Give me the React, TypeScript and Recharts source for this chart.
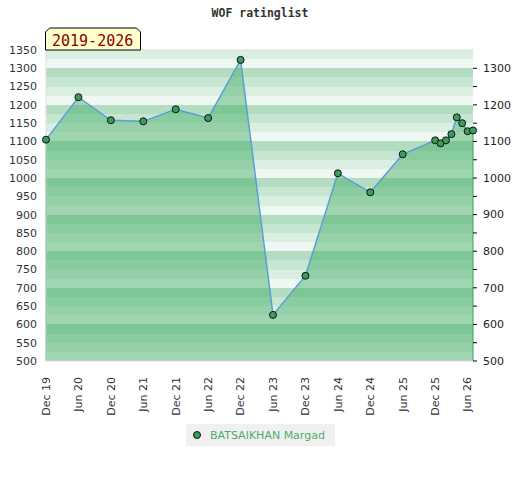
import {
  Area,
  CartesianGrid,
  ComposedChart,
  Legend,
  Line,
  ReferenceLine,
  XAxis,
  YAxis,
} from "recharts";

// months counted from Dec 2019
const months = [0, 6, 12, 18, 24, 30, 36, 42, 48, 54, 60, 66, 72, 73, 74, 75, 76, 77, 78, 79];
const ratings = [
  1105, 1221, 1158, 1155, 1188, 1164, 1323, 626, 733, 1013, 961, 1065, 1103, 1095, 1103, 1120,
  1166, 1150, 1128, 1130,
];

const tickMonths = [0, 6, 12, 18, 24, 30, 36, 42, 48, 54, 60, 66, 72, 78];
const tickLabels = [
  "Dec 19", "Jun 20", "Dec 20", "Jun 21", "Dec 21", "Jun 22", "Dec 22",
  "Jun 23", "Dec 23", "Jun 24", "Dec 24", "Jun 25", "Dec 25", "Jun 26",
];
const leftTicks = [500, 550, 600, 650, 700, 750, 800, 850, 900, 950, 1000, 1050, 1100, 1150, 1200, 1250, 1300, 1350];
const rightTicks = [500, 550, 600, 650, 700, 750, 800, 850, 900, 950, 1000, 1050, 1100, 1150, 1200, 1250, 1300];

const playerName = "BATSAIKHAN Margad";
const title = "WOF ratinglist";
const period = "2019-2026";

const data = months.map((m, i) => ({ month: m, rating: ratings[i] }));

// background stripes every 25 points
const bandValues = Array.from({ length: 35 }, (_, i) => 500 + i * 25);
const bandFill = ["#dbeee2", "#eff7f2", "#b3dcc1", "#c7e6d2"];

const XTick = (props: any) => {
  const { x, y, payload } = props;
  const label = tickLabels[tickMonths.indexOf(payload.value)];
  return (
    <text
      x={x}
      y={y + 8}
      dy="0.35em"
      transform={`rotate(-90, ${x}, ${y + 8})`}
      textAnchor="end"
      fontSize={11}
      fill="#333"
      fontFamily="DejaVu Sans"
    >
      {label}
    </text>
  );
};

const RightTick = (props: any) => {
  const { x, y, payload } = props;
  if (payload.value % 100 !== 0) return <g />;
  return (
    <text x={x} y={y} dy="0.35em" fontSize={11} fill="#222" fontFamily="DejaVu Sans">
      {payload.value}
    </text>
  );
};

const LegendBox = () => (
  <div
    style={{
      background: "#f0f0f0",
      width: 149,
      height: 22,
      display: "flex",
      alignItems: "center",
      fontFamily: "DejaVu Sans",
      fontSize: 11,
      color: "#4cae68",
    }}
  >
    <svg width={24} height={22}>
      <circle cx={11} cy={11} r={3.5} fill="#3a9d5c" stroke="#111" />
    </svg>
    <span>{playerName}</span>
  </div>
);

export default function App() {
  const first = data[0];
  const last = data[data.length - 1];
  return (
    <div style={{ position: "absolute", left: 0, top: 0, width: 520, height: 480, background: "#fff" }}>
      <ComposedChart
        width={520}
        height={480}
        data={data}
        margin={{ top: 50, right: 0, left: 0, bottom: 37 }}
      >
        <CartesianGrid
          yAxisId="left"
          vertical={false}
          horizontalValues={bandValues}
          horizontalFill={bandFill}
          fillOpacity={1}
          stroke="none"
        />
        <ReferenceLine yAxisId="left" y={1350} stroke="#dddddd" />
        <XAxis
          dataKey="month"
          type="number"
          domain={[0, 79]}
          ticks={tickMonths}
          tick={<XTick />}
          tickLine={false}
          axisLine={{ stroke: "#d8d8d8" }}
          height={60}
          interval={0}
        />
        <YAxis
          yAxisId="left"
          domain={[500, 1350]}
          ticks={leftTicks}
          interval={0}
          width={46}
          tickLine={false}
          tickSize={0}
          tickMargin={9}
          axisLine={{ stroke: "#e0e0e0" }}
          tick={{ fontSize: 11, fill: "#333", fontFamily: "DejaVu Sans" }}
        />
        <YAxis
          yAxisId="right"
          orientation="right"
          domain={[500, 1350]}
          ticks={rightTicks}
          interval={0}
          width={47}
          tickSize={4}
          tickMargin={6}
          tickLine={{ stroke: "#000" }}
          axisLine={false}
          tick={<RightTick />}
        />
        <Line
          yAxisId="right"
          dataKey="rating"
          stroke="none"
          dot={false}
          activeDot={false}
          legendType="none"
          isAnimationActive={false}
        />
        <Area
          yAxisId="left"
          dataKey="rating"
          type="linear"
          fill="#3caa5f"
          fillOpacity={0.44}
          stroke="#5b9fd6"
          strokeWidth={1.5}
          dot={{ r: 3.5, fill: "#3a9d5c", stroke: "#111", strokeWidth: 1, fillOpacity: 1 }}
          activeDot={false}
          isAnimationActive={false}
        />
        <ReferenceLine
          yAxisId="left"
          segment={[{ x: first.month, y: 500 }, { x: first.month, y: first.rating }]}
          stroke="#3aa35a"
        />
        <ReferenceLine
          yAxisId="left"
          segment={[{ x: last.month, y: 500 }, { x: last.month, y: last.rating }]}
          stroke="#3aa35a"
        />
        <Legend
          content={<LegendBox />}
          wrapperStyle={{ position: "absolute", left: 186, top: 424, width: 149 }}
        />
      </ComposedChart>
      <svg
        width={520}
        height={60}
        style={{ position: "absolute", left: 0, top: 0, pointerEvents: "none" }}
      >
        <text
          x={260}
          y={17}
          textAnchor="middle"
          fontFamily="DejaVu Sans Mono"
          fontWeight="bold"
          fontSize={11.5}
          fill="#333"
        >
          {title}
        </text>
        <polygon
          points="45.5,50 45.5,32 49.5,28 136.5,28 140.5,32 140.5,50"
          fill="#ffffcc"
          stroke="#000"
        />
        <text x={52} y={46} fontFamily="DejaVu Sans Mono" fontSize={15} fill="#8b0000">
          {period}
        </text>
      </svg>
    </div>
  );
}
